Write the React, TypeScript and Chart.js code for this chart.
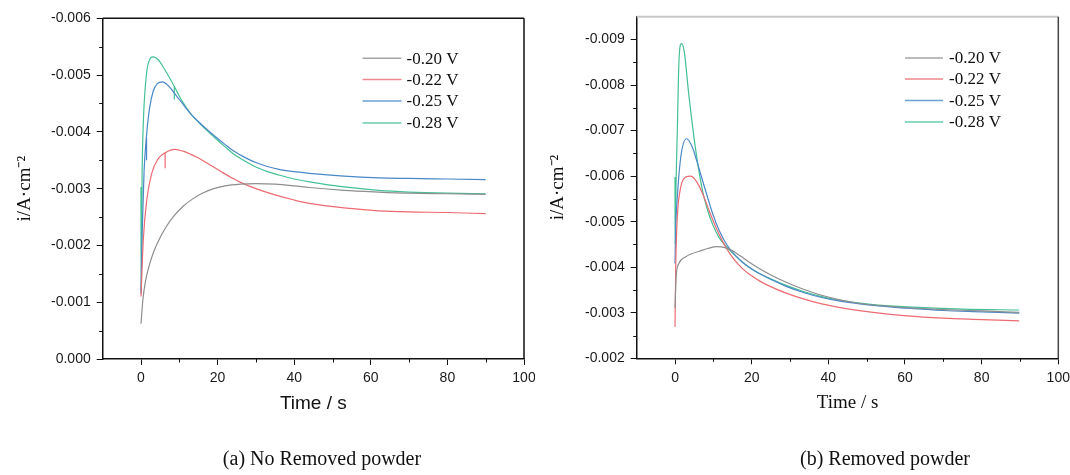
import React, { useEffect, useRef } from 'react';
import { Chart, registerables } from 'chart.js';

Chart.register(...registerables);

// ---------- shared labels / colours ----------
const legendLabels = ['-0.20 V', '-0.22 V', '-0.25 V', '-0.28 V'];
const seriesColors = ['#8e8e8e', '#ec6b72', '#4a88c8', '#43c096'];
const xTicks = [0, 20, 40, 60, 80, 100];
const xMinorTicks = [10, 30, 50, 70, 90];
const yTicksA = [-0.006, -0.005, -0.004, -0.003, -0.002, -0.001, 0];
const yMinorA = [-0.0055, -0.0045, -0.0035, -0.0025, -0.0015, -0.0005];
const yTicksB = [-0.009, -0.008, -0.007, -0.006, -0.005, -0.004, -0.003, -0.002];
const yMinorB = [-0.0085, -0.0075, -0.0065, -0.0055, -0.0045, -0.0035, -0.0025];
const captionA = '(a) No Removed powder';
const captionB = '(b) Removed powder';

// ---------- (a) No Removed powder ----------
const aT020 = [0, 0.5, 1.2, 2.3, 3.5, 5, 6.5, 8.5, 11, 13.5, 16, 19, 22, 26, 30, 35, 40, 44, 53, 62, 70, 80, 90];
const aI020 = [-0.00062, -0.00105, -0.00138, -0.00168, -0.00192, -0.00214, -0.00232, -0.00251, -0.00269, -0.00282, -0.00292, -0.003, -0.00305, -0.00308, -0.00309, -0.00308, -0.00305, -0.00302, -0.00297, -0.00294, -0.00292, -0.00291, -0.0029];

const aT022 = [0, 0.6, 1.5, 2.8, 4.5, 6.3, 8.9, 11, 13.2, 15, 17, 19.5, 21.9, 24, 26, 30, 35, 40, 44, 53, 62, 70, 80, 90];
const aI022 = [-0.0011, -0.0021, -0.0028, -0.00327, -0.00353, -0.00363, -0.00369, -0.00366, -0.0036, -0.00354, -0.00346, -0.00336, -0.00326, -0.00318, -0.00311, -0.003, -0.00289, -0.0028, -0.00274, -0.00266, -0.00261, -0.00259, -0.00258, -0.00256];
const aGlitchT022 = [6.3, 6.3];
const aGlitchI022 = [-0.00363, -0.00336];

const aT025 = [0, 0.3, 0.8, 1.4, 2.2, 3.2, 4.3, 5.6, 7, 8.5, 10, 11.5, 13.2, 15.3, 17.6, 19.7, 21.9, 24, 26, 28, 30, 33, 36, 40, 44, 53, 62, 70, 80, 90];
const aI025 = [-0.00115, -0.0022, -0.0033, -0.0039, -0.0044, -0.00472, -0.00485, -0.00488, -0.00482, -0.0047, -0.00457, -0.00444, -0.0043, -0.00416, -0.00402, -0.0039, -0.00378, -0.00367, -0.00359, -0.00352, -0.00346, -0.00339, -0.00334, -0.0033, -0.00327, -0.00322, -0.00319, -0.00318, -0.00317, -0.00316];
const aGlitchT025 = [1.45, 1.45];
const aGlitchI025 = [-0.0039, -0.0035];

const aT028 = [0, 0.02, 0.3, 0.6, 1.2, 1.9, 3.2, 4.5, 6, 7.3, 8.7, 10.5, 13.2, 15.3, 17.6, 19.7, 21.9, 24, 26, 28, 30, 33, 36, 40, 44, 53, 62, 70, 80, 90];
const aI028 = [-0.00303, -0.0012, -0.0033, -0.00415, -0.00486, -0.00521, -0.00532, -0.00527, -0.00512, -0.00497, -0.0048, -0.00457, -0.0043, -0.00415, -0.004, -0.00387, -0.00374, -0.00362, -0.00353, -0.00345, -0.00338, -0.0033, -0.00324, -0.00317, -0.00312, -0.00303, -0.00297, -0.00294, -0.00292, -0.00291];
const aGlitchT028 = [8.7, 8.7];
const aGlitchI028 = [-0.0048, -0.00457];

// ---------- (b) Removed powder ----------
const bT020 = [0, 0.3, 1, 2.8, 4.5, 6.3, 8.5, 11, 13, 15, 17, 19, 21, 23, 25, 29, 33.7, 38, 42.7, 47, 51.7, 60.6, 70, 80, 89.8];
const bI020 = [-0.0031, -0.0038, -0.00408, -0.00423, -0.0043, -0.00435, -0.00441, -0.00445, -0.00443, -0.00436, -0.00425, -0.00413, -0.00402, -0.00392, -0.00383, -0.00367, -0.00351, -0.00339, -0.00329, -0.00322, -0.00317, -0.00311, -0.00307, -0.00304, -0.00301];

const bT022 = [0, 0.2, 0.6, 1.5, 2.8, 4.1, 5.2, 6.3, 7.6, 8.9, 11, 13.3, 15.5, 17.6, 20, 22, 24.8, 29, 33.7, 38, 42.7, 51.7, 60.6, 70, 80, 89.8];
const bI022 = [-0.00269, -0.00409, -0.0051, -0.00576, -0.00598, -0.006, -0.00593, -0.00578, -0.00553, -0.00524, -0.00481, -0.00443, -0.00416, -0.00397, -0.00381, -0.0037, -0.00358, -0.00343, -0.0033, -0.0032, -0.00312, -0.00301, -0.00293, -0.00288, -0.00285, -0.00282];

const bT025 = [0, 0.15, 0.6, 1.5, 3, 4.5, 5.8, 7.15, 8.5, 9.8, 11.5, 13.3, 15.5, 17.6, 20, 22, 24.8, 29, 33.7, 38, 42.7, 51.7, 60.6, 70, 80, 89.8];
const bI025 = [-0.00408, -0.0048, -0.00554, -0.00642, -0.00682, -0.00664, -0.0063, -0.00591, -0.00553, -0.00518, -0.00481, -0.00452, -0.00428, -0.00411, -0.00396, -0.00386, -0.00374, -0.00358, -0.00344, -0.00334, -0.00326, -0.00316, -0.0031, -0.00305, -0.00302, -0.00299];

const bT028 = [0, 0.02, 0.3, 0.6, 1, 1.65, 2.35, 3.66, 5.4, 7.15, 8.5, 9.8, 11.5, 13.3, 15.5, 17.6, 20, 22, 24.8, 29, 33.7, 38, 42.7, 51.7, 60.6, 75, 89.8];
const bI028 = [-0.00598, -0.0045, -0.006, -0.007, -0.00847, -0.00891, -0.00876, -0.00774, -0.00657, -0.00569, -0.00525, -0.00494, -0.00465, -0.00446, -0.00427, -0.00411, -0.00396, -0.00386, -0.00375, -0.0036, -0.00346, -0.00336, -0.00328, -0.00318, -0.00313, -0.00308, -0.00306];

const SANS = "'Liberation Sans', Arial, sans-serif";
const SERIF = "'Liberation Serif', 'Times New Roman', serif";

const toPoints = (t: number[], v: number[]) => t.map((x, i) => ({ x, y: v[i] }));

type Series = { t: number[]; v: number[]; color: number; label?: string };

const panelDecor = {
  id: 'panelDecor',
  afterDraw(chart: any, _args: any, opts: any) {
    const { ctx, chartArea } = chart;
    const { left, right, top, bottom } = chartArea;
    const xs = chart.scales.x;
    const ys = chart.scales.y;
    ctx.save();
    // minor ticks
    ctx.strokeStyle = '#111';
    ctx.lineWidth = 1;
    ctx.beginPath();
    (opts.xMinor || []).forEach((v: number) => {
      const px = Math.round(xs.getPixelForValue(v)) + 0.5;
      ctx.moveTo(px, bottom);
      ctx.lineTo(px, bottom + 3.5);
    });
    (opts.yMinor || []).forEach((v: number) => {
      const py = Math.round(ys.getPixelForValue(v)) + 0.5;
      ctx.moveTo(left, py);
      ctx.lineTo(left - 3.5, py);
    });
    ctx.stroke();
    // top & right frame
    ctx.lineWidth = opts.topWidth;
    ctx.strokeStyle = opts.topColor;
    ctx.beginPath();
    ctx.moveTo(left, top);
    ctx.lineTo(right, top);
    ctx.stroke();
    ctx.lineWidth = opts.rightWidth;
    ctx.strokeStyle = opts.rightColor;
    ctx.beginPath();
    ctx.moveTo(right, top);
    ctx.lineTo(right, bottom);
    ctx.stroke();
    // legend
    const lg = opts.legend;
    ctx.font = `17px ${SERIF}`;
    ctx.textBaseline = 'middle';
    ctx.textAlign = 'left';
    let row = 0;
    chart.data.datasets.forEach((ds: any) => {
      if (!ds.label) return;
      const y = lg.rows[row++];
      ctx.strokeStyle = ds.borderColor;
      ctx.globalAlpha = 0.8;
      ctx.lineWidth = 1.5;
      ctx.beginPath();
      ctx.moveTo(lg.x0, y);
      ctx.lineTo(lg.x1, y);
      ctx.stroke();
      ctx.globalAlpha = 1;
      ctx.fillStyle = '#111';
      ctx.fillText(ds.label, lg.textX, y + 1);
    });
    ctx.restore();
  },
};

interface PanelProps {
  series: Series[];
  yMin: number;
  yMax: number;
  yTicks: number[];
  yMinor: number[];
  xTitleFont: string;
  area: { left: number; right: number; top: number; bottom: number };
  yTitlePad: number;
  frame: { topColor: string; topWidth: number; rightColor: string; rightWidth: number };
  legend: { x0: number; x1: number; textX: number; rows: number[] };
}

const W = 535;
const H = 475;

function Panel(p: PanelProps) {
  const ref = useRef<HTMLCanvasElement>(null);
  useEffect(() => {
    if (!ref.current) return;
    const xAxisH = 56;
    const chart = new Chart(ref.current, {
      type: 'line',
      data: {
        datasets: p.series.map((s) => ({
          label: s.label || '',
          data: toPoints(s.t, s.v),
          borderColor: seriesColors[s.color],
          backgroundColor: seriesColors[s.color],
          borderWidth: 1.2,
          pointRadius: 0,
          fill: false,
          cubicInterpolationMode: 'monotone',
        })),
      },
      options: {
        responsive: false,
        animation: false,
        events: [],
        layout: {
          padding: {
            left: 0,
            top: p.area.top,
            right: W - p.area.right,
            bottom: H - p.area.bottom - xAxisH,
          },
        },
        plugins: {
          legend: { display: false },
          tooltip: { enabled: false },
          panelDecor: {
            xMinor: xMinorTicks,
            yMinor: p.yMinor,
            ...p.frame,
            legend: p.legend,
          },
        } as any,
        scales: {
          x: {
            type: 'linear',
            min: -10,
            max: 100,
            afterBuildTicks: (s: any) => {
              s.ticks = xTicks.map((v) => ({ value: v }));
            },
            afterFit: (s: any) => {
              s.height = xAxisH;
              s.paddingLeft = 0;
              s.paddingRight = 0;
            },
            ticks: {
              autoSkip: false,
              maxRotation: 0,
              padding: 5,
              color: '#1a1a1a',
              font: { family: SANS, size: 14 },
              callback: (v: any) => String(v),
            },
            grid: { drawOnChartArea: false, tickLength: 6, tickColor: '#111', tickWidth: 1 },
            border: { color: '#111', width: 1.5 },
            title: {
              display: true,
              text: 'Time / s',
              color: '#111',
              padding: 0,
              font: { family: p.xTitleFont, size: 19 },
            },
          },
          y: {
            type: 'linear',
            reverse: true,
            min: p.yMin,
            max: p.yMax,
            afterBuildTicks: (s: any) => {
              s.ticks = p.yTicks.map((v) => ({ value: v }));
            },
            afterFit: (s: any) => {
              s.width = p.area.left;
              s.paddingTop = 0;
              s.paddingBottom = 0;
            },
            ticks: {
              autoSkip: false,
              padding: 6,
              color: '#1a1a1a',
              font: { family: SANS, size: 14 },
              callback: (v: any) => Number(v).toFixed(3),
            },
            grid: { drawOnChartArea: false, tickLength: 6, tickColor: '#111', tickWidth: 1 },
            border: { color: '#111', width: 1.5 },
            title: {
              display: true,
              text: 'i/A·cm⁻²',
              color: '#111',
              padding: { top: p.yTitlePad, bottom: 0 },
              font: { family: SERIF, size: 19 },
            },
          },
        },
      } as any,
      plugins: [panelDecor as any],
    });
    return () => chart.destroy();
  }, []);
  return <canvas ref={ref} width={W} height={H} style={{ display: 'block', width: W, height: H }} />;
}

export default function App() {
  const captionStyle: React.CSSProperties = {
    position: 'absolute',
    top: 446,
    width: 400,
    textAlign: 'center',
    fontFamily: SERIF,
    fontSize: 20,
    lineHeight: '24px',
    color: '#111',
  };
  return (
    <div style={{ position: 'fixed', left: 0, top: 0, width: 1070, height: 475, background: '#fff', overflow: 'hidden' }}>
      <div style={{ position: 'absolute', left: 0, top: 0 }}>
        <Panel
          series={[
            { t: aT020, v: aI020, color: 0, label: legendLabels[0] },
            { t: aT022, v: aI022, color: 1, label: legendLabels[1] },
            { t: aT025, v: aI025, color: 2, label: legendLabels[2] },
            { t: aT028, v: aI028, color: 3, label: legendLabels[3] },
            { t: aGlitchT022, v: aGlitchI022, color: 1 },
            { t: aGlitchT025, v: aGlitchI025, color: 2 },
            { t: aGlitchT028, v: aGlitchI028, color: 3 },
          ]}
          yMin={-0.006}
          yMax={0}
          yTicks={yTicksA}
          yMinor={yMinorA}
          xTitleFont={SANS}
          area={{ left: 102.7, right: 524, top: 18.3, bottom: 359 }}
          yTitlePad={14}
          frame={{ topColor: '#111', topWidth: 1.5, rightColor: '#111', rightWidth: 1.5 }}
          legend={{ x0: 362.5, x1: 401.5, textX: 406.5, rows: [58.3, 79.5, 101, 123] }}
        />
      </div>
      <div style={{ position: 'absolute', left: 535, top: 0 }}>
        <Panel
          series={[
            { t: bT020, v: bI020, color: 0, label: legendLabels[0] },
            { t: bT022, v: bI022, color: 1, label: legendLabels[1] },
            { t: bT025, v: bI025, color: 2, label: legendLabels[2] },
            { t: bT028, v: bI028, color: 3, label: legendLabels[3] },
          ]}
          yMin={-0.0095}
          yMax={-0.002}
          yTicks={yTicksB}
          yMinor={yMinorB}
          xTitleFont={SERIF}
          area={{ left: 101.7, right: 523.3, top: 16.7, bottom: 358.3 }}
          yTitlePad={12}
          frame={{ topColor: '#c8c8c8', topWidth: 2, rightColor: '#444', rightWidth: 1.5 }}
          legend={{ x0: 370, x1: 408, textX: 414, rows: [58, 79, 100.5, 122] }}
        />
      </div>
      <div style={{ ...captionStyle, left: 322 - 200 }}>{captionA}</div>
      <div style={{ ...captionStyle, left: 885 - 200 }}>{captionB}</div>
    </div>
  );
}
